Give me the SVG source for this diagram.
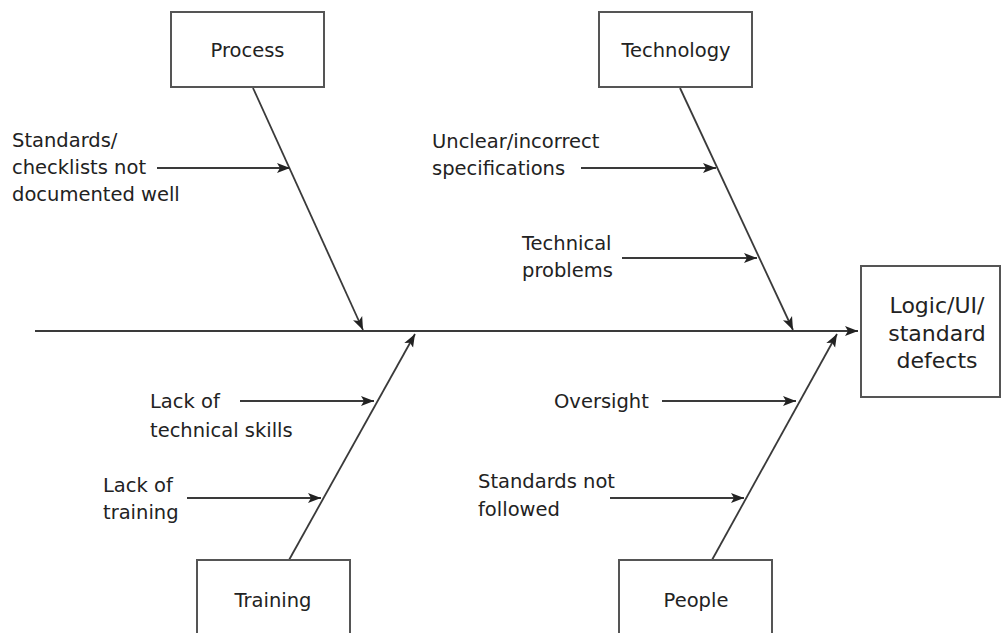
<svg xmlns="http://www.w3.org/2000/svg" width="1003" height="633" viewBox="0 0 1003 633">
<style>
.box{fill:#fff;stroke:#555;stroke-width:2}
.ln{stroke:#3a3a3a;stroke-width:1.8;fill:none}
.t{font-family:"DejaVu Sans",sans-serif;font-size:19.5px;fill:#222}
.c{text-anchor:middle}
.big{font-size:22px}
</style>
<defs>
<marker id="ah" markerUnits="userSpaceOnUse" markerWidth="14" markerHeight="12" viewBox="0 0 14 12" refX="13" refY="6" orient="auto">
<path d="M0,1 L13,6 L0,11 L3,6 z" fill="#222"/>
</marker>
</defs>
<rect width="1003" height="633" fill="#fff"/>
<g id="connectors">
<line class="ln" x1="35" y1="331" x2="858" y2="331" marker-end="url(#ah)"/>
<line class="ln" x1="253" y1="88" x2="363" y2="330" marker-end="url(#ah)"/>
<line class="ln" x1="680" y1="88" x2="793" y2="330" marker-end="url(#ah)"/>
<line class="ln" x1="289" y1="560" x2="415" y2="334" marker-end="url(#ah)"/>
<line class="ln" x1="712" y1="560" x2="837" y2="334" marker-end="url(#ah)"/>
<line class="ln" x1="157" y1="168" x2="290" y2="168" marker-end="url(#ah)"/>
<line class="ln" x1="581" y1="168" x2="716" y2="168" marker-end="url(#ah)"/>
<line class="ln" x1="622" y1="258" x2="757" y2="258" marker-end="url(#ah)"/>
<line class="ln" x1="240" y1="401" x2="374" y2="401" marker-end="url(#ah)"/>
<line class="ln" x1="187" y1="498" x2="321" y2="498" marker-end="url(#ah)"/>
<line class="ln" x1="662" y1="401" x2="796" y2="401" marker-end="url(#ah)"/>
<line class="ln" x1="610" y1="498" x2="744" y2="498" marker-end="url(#ah)"/>
</g>
<g id="process">
<rect class="box" x="171" y="12" width="153" height="75"/>
<text class="t c" x="247.5" y="57">Process</text>
</g>
<g id="technology">
<rect class="box" x="599" y="12" width="153" height="75"/>
<text class="t c" x="676" y="57">Technology</text>
</g>
<g id="training">
<rect class="box" x="197" y="560" width="153" height="85"/>
<text class="t c" x="273" y="607">Training</text>
</g>
<g id="people">
<rect class="box" x="619" y="560" width="153" height="85"/>
<text class="t c" x="696" y="607">People</text>
</g>
<g id="effect">
<rect class="box" x="861" y="266" width="139" height="131"/>
<text class="t c big" x="937" y="313">Logic/UI/</text>
<text class="t c big" x="937" y="341">standard</text>
<text class="t c big" x="937" y="368">defects</text>
</g>
<g id="cause-standards-checklists">
<text class="t" x="12" y="147">Standards/</text>
<text class="t" x="12" y="174">checklists not</text>
<text class="t" x="12" y="201">documented well</text>
</g>
<g id="cause-unclear-specs">
<text class="t" x="432" y="148">Unclear/incorrect</text>
<text class="t" x="432" y="175">specifications</text>
</g>
<g id="cause-technical-problems">
<text class="t" x="522" y="250">Technical</text>
<text class="t" x="522" y="277">problems</text>
</g>
<g id="cause-lack-skills">
<text class="t" x="150" y="408">Lack of</text>
<text class="t" x="150" y="437">technical skills</text>
</g>
<g id="cause-lack-training">
<text class="t" x="103" y="492">Lack of</text>
<text class="t" x="103" y="519">training</text>
</g>
<g id="cause-oversight">
<text class="t" x="554" y="408">Oversight</text>
</g>
<g id="cause-standards-not-followed">
<text class="t" x="478" y="488">Standards not</text>
<text class="t" x="478" y="516">followed</text>
</g>
</svg>
